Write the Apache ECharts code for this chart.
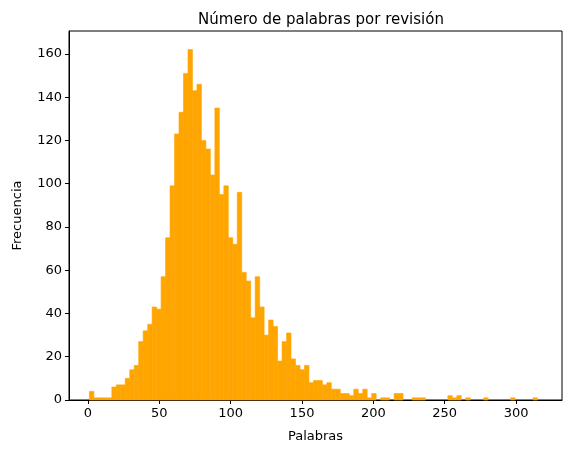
<!DOCTYPE html>
<html>
<head>
<meta charset="utf-8">
<script src="https://cdn.jsdelivr.net/npm/echarts@6/dist/echarts.min.js"></script>
<style>html,body{margin:0;padding:0;background:#fff}#main{width:571px;height:454px}</style>
</head>
<body>
<div id="main"></div>
<script>
// histograma: 100 intervalos
var binStart = 1;
var binWidth = 3.14;
var counts = [4,1,1,1,1,6,7,7,10,14, 16,27,32,35,43,42,57,75,99,123,
  133,151,162,143,146,120,116,104,135,95, 99,75,72,96,59,55,38,57,43,30,
  37,34,18,27,31,19,16,14,16,8, 9,9,7,8,5,5,3,3,2,5,
  3,5,1,3,0,1,1,0,3,3, 0,0,1,1,1,0,0,0,0,0,
  2,1,2,0,1,0,0,0,1,0, 0,0,0,0,1,0,0,0,0,1];
var xTicks = [0, 50, 100, 150, 200, 250, 300];
var yTicks = [0, 20, 40, 60, 80, 100, 120, 140, 160];

var bins = counts.map(function (c, i) {
  return [binStart + i * binWidth, binStart + (i + 1) * binWidth, c];
});

var myChart = echarts.init(document.getElementById('main'));
var font = 'DejaVu Sans';
option = {
  animation: false,
  title: {
    text: 'Número de palabras por revisión',
    left: 316, top: 8, textAlign: 'center',
    textStyle: {fontFamily: font, fontSize: 15, fontWeight: 'normal', color: '#000'}
  },
  grid: {left: 69, right: 9, top: 31, bottom: 54, show: true, borderColor: '#000', borderWidth: 1},
  xAxis: {
    type: 'value', min: -13.3, max: 332.2,
    name: 'Palabras', nameLocation: 'middle', nameGap: 30,
    nameTextStyle: {fontFamily: font, fontSize: 13, color: '#000'},
    splitLine: {show: false},
    axisLine: {onZero: false, lineStyle: {color: '#000'}},
    axisTick: {inside: false, customValues: xTicks, length: 4, lineStyle: {color: '#000'}},
    axisLabel: {customValues: xTicks, fontFamily: font, fontSize: 13, color: '#000', margin: 7}
  },
  yAxis: {
    type: 'value', min: 0, max: 170.6,
    name: 'Frecuencia', nameLocation: 'middle', nameGap: 45,
    nameTextStyle: {fontFamily: font, fontSize: 13, color: '#000'},
    splitLine: {show: false},
    axisLine: {show: true, onZero: false, lineStyle: {color: '#000'}},
    axisTick: {show: true, inside: false, customValues: yTicks, length: 4, lineStyle: {color: '#000'}},
    axisLabel: {customValues: yTicks, fontFamily: font, fontSize: 13, color: '#000', margin: 7}
  },
  series: [{
    type: 'custom',
    data: bins,
    encode: {x: [0, 1], y: 2},
    renderItem: function (params, api) {
      if (!api.value(2)) return;
      var p0 = api.coord([api.value(0), api.value(2)]);
      var p1 = api.coord([api.value(1), 0]);
      return {
        type: 'rect',
        shape: {x: p0[0], y: p0[1], width: p1[0] - p0[0], height: p1[1] - p0[1]},
        style: {fill: '#ffa500', stroke: '#ffa500', lineWidth: 0.6}
      };
    }
  }]
};
myChart.setOption(option);
</script>
</body>
</html>
